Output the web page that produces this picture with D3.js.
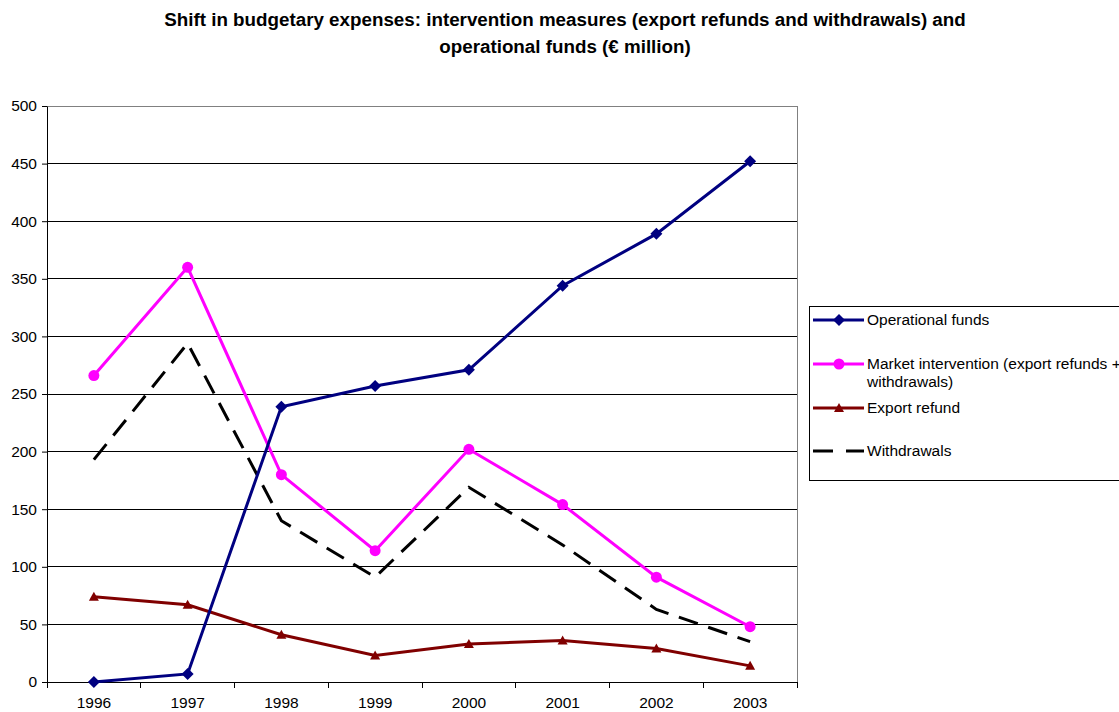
<!DOCTYPE html>
<html><head><meta charset="utf-8">
<script src="https://cdn.jsdelivr.net/npm/d3@7"></script>
<style>body{margin:0;background:#fff}svg{display:block;font-family:Arial,"Liberation Sans",sans-serif}</style>
</head><body>
<svg id="c" width="1119" height="712"></svg>
<script>
const years = ["1996","1997","1998","1999","2000","2001","2002","2003"];
const operationalFunds = [0, 7, 239, 257, 271, 344, 389, 452];
const marketIntervention = [266, 360, 180, 114, 202, 154, 91, 48];
const exportRefund = [74, 67, 41, 23, 33, 36, 29, 14];
const withdrawals = [193, 294, 140, 91, 169, 119, 63, 35];
const yTicks = [0,50,100,150,200,250,300,350,400,450,500];

const FONT = "Arial, 'Liberation Sans', sans-serif";
const svg = d3.select("#c");
const L=47, R=797, T=106, B=682;
const x = d3.scaleBand().domain(years).range([L,R]);
const y = d3.scaleLinear().domain([0,500]).range([B,T]);

// title
const title = svg.append("text").attr("text-anchor","middle").attr("font-weight","bold").attr("font-size",18.8).attr("font-family",FONT);
title.append("tspan").attr("x",565).attr("y",26).text("Shift in budgetary expenses: intervention measures (export refunds and withdrawals) and");
title.append("tspan").attr("x",565).attr("y",53).text("operational funds (€ million)");

// gridlines
svg.append("g").selectAll("line").data(yTicks.filter(d=>d>0)).join("line")
  .attr("x1",L).attr("x2",R).attr("y1",d=>y(d)).attr("y2",d=>y(d))
  .attr("stroke",d=>d===500?"#808080":"#000").attr("stroke-width",1).attr("shape-rendering","crispEdges");
// right border
svg.append("line").attr("x1",R).attr("x2",R).attr("y1",T).attr("y2",B).attr("stroke","#808080").attr("shape-rendering","crispEdges");

// y axis
const ya = svg.append("g").attr("transform",`translate(${L},0)`).call(d3.axisLeft(y).tickValues(yTicks).tickSize(5).tickPadding(5).tickSizeOuter(0));
ya.select(".domain").attr("stroke","#000");
ya.selectAll("line").attr("stroke","#000");
ya.selectAll("text").attr("font-size",15.5).attr("font-family",FONT).attr("fill","#000");

// x axis
const xa = svg.append("g").attr("transform",`translate(0,${B})`).call(d3.axisBottom(x).tickSize(0).tickPadding(15).tickSizeOuter(0));
xa.select(".domain").attr("stroke","#000");
xa.selectAll("text").attr("font-size",15.5).attr("font-family",FONT).attr("fill","#000");
svg.append("g").selectAll("line").data(years.map(d=>x(d)).concat([R])).join("line")
  .attr("x1",d=>d).attr("x2",d=>d).attr("y1",B).attr("y2",B+6).attr("stroke","#000").attr("shape-rendering","crispEdges");

const cx = d=>x(d)+x.bandwidth()/2;
const line = d3.line().x((d,i)=>cx(years[i])).y(d=>y(d));

const series = [
  {name:"Operational funds", vals:operationalFunds, color:"#000080", marker:"diamond", dash:null},
  {name:"Market intervention (export refunds +", name2:"withdrawals)", vals:marketIntervention, color:"#FF00FF", marker:"circle", dash:null},
  {name:"Export refund", vals:exportRefund, color:"#800000", marker:"triangle", dash:null},
  {name:"Withdrawals", vals:withdrawals, color:"#000000", marker:null, dash:"20,11"}
];
const drawOrder = [series[3], series[2], series[1], series[0]];
function marker(g, type, color, px, py){
  if(type==="diamond") g.append("path").attr("d","M0,-6L6,0L0,6L-6,0Z").attr("transform",`translate(${px},${py})`).attr("fill",color);
  else if(type==="circle") g.append("circle").attr("cx",px).attr("cy",py).attr("r",5.5).attr("fill",color);
  else if(type==="triangle") g.append("path").attr("d","M0,-5L5,4L-5,4Z").attr("transform",`translate(${px},${py})`).attr("fill",color);
}
drawOrder.forEach(s=>{
  const g = svg.append("g");
  g.append("path").attr("d",line(s.vals)).attr("fill","none").attr("stroke",s.color).attr("stroke-width",3)
   .attr("stroke-dasharray",s.dash).attr("stroke-linejoin","miter");
  if(s.marker) s.vals.forEach((v,i)=>marker(g,s.marker,s.color,cx(years[i]),y(v)));
});

// legend
const lg = svg.append("g");
lg.append("rect").attr("x",809.5).attr("y",306.5).attr("width",330).attr("height",174).attr("fill","#fff").attr("stroke","#000").attr("stroke-width",1);
const ly = [320, 364, 408, 451];
series.forEach((s,i)=>{
  lg.append("line").attr("x1",813).attr("x2",864).attr("y1",ly[i]).attr("y2",ly[i]).attr("stroke",s.color).attr("stroke-width",3).attr("stroke-dasharray",s.dash?"20,13":null);
  if(s.marker) marker(lg,s.marker,s.color,839,ly[i]);
  lg.append("text").attr("x",867).attr("y",ly[i]+5).attr("font-size",15.5).attr("font-family",FONT).attr("fill","#000").text(s.name);
  if(s.name2) lg.append("text").attr("x",867).attr("y",ly[i]+23).attr("font-size",15.5).attr("font-family",FONT).attr("fill","#000").text(s.name2);
});
</script>
</body></html>
